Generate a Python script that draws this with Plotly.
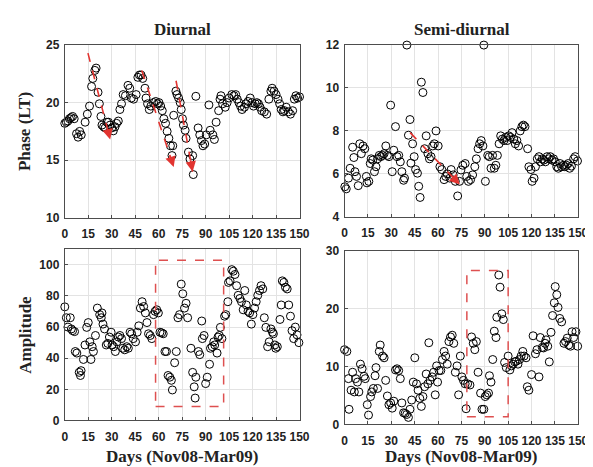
import plotly.graph_objects as go

# ---------------- data ----------------
diurnal_phase_day = [0,1,2,3,4,5,6,7.5,8.5,9.5,10.5,13,14.4,15.8,17.1,17.9,19.2,20,
    21.25,22.1,23.1,23.75,24.8,25.8,26.9,27.9,29,30,31,32.1,33.1,34.2,35.2,36.25,37.3,38.75,40.4,41.5,
    42.5,44,45.6,46.7,47.7,48.75,49.8,51.25,51.9,52.9,54,55,56.7,58.1,59.2,60.2,61.25,62.3,63.3,64.4,
    65.4,66.5,67.5,68.5,69,69.6,71,71.7,72.7,73.75,74.4,75.2,75.8,76.9,77.5,79,80,81.7,82.1,83.75,
    85.2,86.25,87.3,88.3,89.4,90.4,92.1,92.9,94.6,95.6,96.7,98.3,99.2,99.8,100.8,102.5,103.75,105,106.7,108.1,
    109.2,110.2,111.25,112.3,113.3,114.8,115.8,117.1,118.5,119.6,120.6,121.7,122.7,123.75,124.8,125.8,127.5,129,130.4,131.7,
    132.5,133.75,135,136.25,137.3,138.3,139.4,140.4,141.5,142.9,144.2,145.6,146.7,147.7,148.75,150]
diurnal_phase = [18.2,18.3,18.4,18.6,18.7,18.8,18.6,17.3,17.0,17.5,17.2,18.3,19.0,19.7,21.4,22.1,22.8,23.0,
    20.9,19.9,18.8,18.05,17.9,17.8,18.3,18.3,18.05,17.8,17.55,17.9,18.2,18.4,19.4,19.9,20.7,20.6,21.5,21.25,
    20.4,20.3,20.7,22.2,22.4,22.4,22.1,21.25,20.4,19.9,19.4,19.7,20.0,20.1,19.9,20.0,19.7,19.3,18.6,18.2,
    17.5,16.9,16.25,15.4,16.25,18.9,21.0,20.7,20.4,20.0,19.4,18.6,18.05,17.6,16.9,15.7,15.1,15.4,13.75,20.55,
    17.8,17.2,16.7,16.25,16.4,17.2,19.8,17.6,17.2,16.8,18.3,19.3,20.3,20.6,19.9,19.6,20.0,20.4,20.7,20.6,
    20.7,20.3,20.0,19.7,19.4,19.6,19.9,20.1,20.4,20.0,19.7,19.9,20.0,19.9,19.6,19.3,19.2,19.0,20.3,21.0,
    21.25,21.0,20.7,20.3,19.9,19.4,19.2,19.3,19.6,19.2,19.0,19.3,20.3,20.6,20.4,20.5]

semi_phase_day = [0.2,1.1,2.5,3.6,5.2,6.0,6.7,7.7,8.8,9.8,10.8,11.9,13,14,14.4,15.6,16.5,17.1,18.1,19.2,
    20.2,21.2,22.3,23.3,24.4,25.4,26.5,27.5,28.5,29.6,30.6,31.6,32.7,33.7,34.8,35.8,36.8,37.9,38.5,40,
    41,42,42.6,43.7,44.7,45.6,46.8,47.6,48.5,49.3,50.3,51.4,52.4,53.5,54.5,55.5,56.6,57.6,58.7,60.1,
    61.2,62.4,63.9,64.9,65.9,67.6,68.4,69.7,71.1,72.6,73.8,74.7,75.9,77.4,78.4,79.5,80.9,82.2,83.6,84.6,
    85.7,86.7,87.7,88.8,89.4,90.4,91.9,92.9,94.0,95.0,96.1,97.1,98.1,99.2,100.2,101.3,102.3,103.4,104.4,105.4,
    106.5,107.5,108.6,109.6,110.6,111.7,112.7,113.8,114.8,115.8,117.5,118.3,119.6,120.4,121.6,122.5,123.7,124.8,125.8,126.9,
    127.9,128.9,130,131,132,133.1,134.1,135.2,136.2,137.2,138.3,139.3,140.4,141.4,142.4,143.5,144.5,145.6,147,148,149.5]
semi_phase = [5.4,5.3,5.8,6.26,7.24,6.76,6.1,5.88,5.45,7.4,6.94,7.3,7.17,5.88,5.58,5.65,6.48,6.7,6.64,6.1,
    6.33,6.7,6.86,6.8,6.86,6.94,7.3,6.86,6.8,9.2,6.1,7.1,8.2,6.8,6.86,6.56,6.1,5.7,5.8,12.0,
    7.8,8.53,6.5,7.4,6.8,6.2,6.03,5.42,4.9,10.27,9.79,7.17,7.77,6.94,6.7,6.8,7.3,7.4,8.0,7.3,
    6.33,6.2,5.73,5.88,6.0,5.8,6.2,5.95,5.65,4.97,5.65,6.18,6.4,6.48,5.88,5.65,5.73,5.95,6.33,6.7,
    7.17,7.4,7.55,7.3,12.0,5.65,6.86,6.8,6.26,6.86,6.26,6.4,6.86,7.4,7.77,7.62,7.55,7.7,7.55,7.77,
    7.7,7.92,7.62,7.4,7.55,7.3,8.0,8.2,8.27,8.2,7.17,6.33,6.2,5.65,5.8,6.33,6.7,6.8,6.56,6.7,
    6.64,6.56,6.8,6.7,6.8,6.64,6.7,6.56,6.33,6.26,6.48,6.33,6.4,6.33,6.4,6.48,6.26,6.36,6.7,6.8,6.6]

diurnal_amp_day = [0,1,2,3.5,4.2,5.0,6.25,6.7,7.7,9.2,10.0,10.4,11.9,12.9,14.0,15.0,16.0,16.7,17.5,18.3,
    19.6,20.8,22.3,23.3,23.75,24.4,25.4,26.5,27.5,28.5,29.6,30.2,31.25,32.3,33.3,34.2,35.2,36.25,37.1,38.3,
    39.6,40.6,41.7,42.7,43.75,45.2,46.25,47.3,48.3,49.4,50.4,51.5,52.5,53.5,54.6,55.6,56.7,57.7,58.75,59.8,
    60.8,61.9,62.9,64.0,65.0,66.0,67.1,68.1,68.75,70.2,71.25,72.3,73.3,74.4,75.4,76.5,77.5,78.5,80.6,81.7,
    82.7,83.3,83.75,85.4,86.25,87.5,87.9,89.0,90.0,91.0,92.5,93.1,94.2,95.2,95.8,97.3,97.9,98.75,99.4,100.4,
    102.1,102.9,104.2,104.6,105.6,106.7,107.7,108.75,109.8,110.8,111.9,112.9,114.0,115.0,116.0,117.1,118.1,119.2,120.2,121.25,
    122.3,123.3,124.4,125.4,126.5,127.5,128.5,129.6,130.6,131.7,132.7,133.3,134.2,134.8,135.8,137.5,138.3,139.0,140.0,141.0,
    142.1,143.1,144.2,145.2,146.25,147.3,148.4,149.6]
diurnal_amp = [73,66,60,66.0,58.8,57.7,57.1,44.3,43.3,30.9,28.9,32.0,39.2,48.5,59.8,62.9,50.5,39.2,47.4,44.3,
    54.6,72.2,68.0,66.0,69.1,61.9,58.8,48.5,49.5,53.6,56.7,48.5,47.4,44.3,50.5,53.6,54.6,52.6,46.4,45.4,
    47.4,46.4,56.7,55.7,52.6,50.5,56.7,60.8,72.2,76.3,73.2,69.1,62.9,55.7,54.6,52.6,68.0,70.1,71.1,69.1,
    56.7,56.3,55.7,44.3,44.3,28.9,27.8,25.8,19.6,37.1,44.3,66.0,68.0,87.6,81.4,72.2,75.3,66.0,46.4,30.9,
    21.6,14.4,27.8,44.3,42.3,63.9,52.6,54.6,23.7,27.8,36.1,46.4,47.4,50.5,48.5,43.3,53.6,54.6,59.8,52.6,
    67.0,68.0,76.3,88.7,89.7,96.9,95.9,93.8,86.6,80.4,78.4,76.3,71.1,83.5,74.2,70.1,69.1,61.9,68.0,72.2,
    76.3,80.4,83.5,86.6,84.5,66.0,59.8,47.4,50.5,58.8,56.7,55.7,48.5,46.4,47.4,64.9,74.2,89.7,88.7,85.6,
    84.5,74.2,67.0,57.7,52.6,60,55,50]

semi_amp_day = [0.0,1.5,2.5,2.9,4.2,5.2,6.3,7.1,8.3,9.2,10.2,11.3,12.5,13.3,14.6,15.4,16.7,17.5,18.5,19.6,
    20.2,21.2,22.3,22.9,24.4,25.4,26.4,27.5,28.5,29.6,30.6,31.6,32.7,33.7,34.75,35.8,36.8,37.9,38.9,39.9,
    41.0,42.0,43.1,44.1,45.1,46.2,47.2,48.3,49.3,50.3,51.4,52.4,53.5,54.1,54.9,56.2,57.2,58.2,59.1,59.7,
    60.7,61.8,62.8,63.9,64.9,65.9,67.0,68.0,69.1,70.1,71.1,72.2,73.2,74.3,75.3,76.3,77.4,78.0,79.0,80.5,
    81.5,82.6,83.6,84.6,85.7,87.3,88.2,89.4,90.3,91.3,92.4,93.0,94.0,95.1,96.1,97.2,97.7,99.0,99.8,100.9,
    101.9,102.7,103.8,105.0,106.1,107.1,108.1,109.2,110.2,111.3,112.3,113.3,114.4,115.2,116.5,117.3,118.3,120.0,121.0,122.5,
    123.5,124.8,125.6,126.9,127.7,128.7,129.3,130.4,131.4,132.5,133.5,134.6,135.2,136.2,137.0,138.1,139.3,140.8,141.8,142.9,
    143.9,145.0,146.0,147.0,148.5,149.6]
semi_amp = [12.9,12.6,7.9,2.6,5.9,9.0,5.6,7.9,7.3,5.6,10.4,9.6,8.3,7.9,3.4,1.6,4.8,5.6,6.2,8.4,
    9.8,6.2,12.6,13.7,11.8,11.5,7.6,4.9,3.4,3.7,2.8,4.0,9.4,9.6,9.3,7.9,3.7,2.0,1.9,1.7,
    1.2,2.6,4.2,7.3,11.5,7.0,5.9,4.5,3.1,4.8,6.5,8.7,7.0,14.1,7.6,8.2,9.0,5.1,10.1,7.3,
    9.3,9.3,11.2,12.6,11.8,10.4,14.3,15.1,15.4,14.0,9.0,10.1,5.1,11.8,8.2,7.6,7.0,2.7,7.0,6.8,
    15.1,14.0,12.9,14.3,9.0,5.4,2.6,2.6,4.8,5.1,5.4,8.4,7.3,11.2,16.1,15.0,18.5,25.8,23.7,19.1,
    18.1,10.7,9.8,11.8,9.4,10.1,10.4,10.8,10.9,10.4,11.2,11.8,12.6,11.8,11.5,6.5,5.9,8.6,15.3,12.2,
    12.9,8.2,15.0,13.3,13.2,14.0,14.6,13.5,10.8,15.9,18.8,21.0,23.8,22.4,20.2,18.3,17.7,14.0,14.3,14.9,
    13.7,13.5,16.0,15.0,16.0,13.5]

# trend arrows (start day, start value, end day, end value)
diurnal_arrows = [(14.8, 24.3, 29.0, 16.8), (49.2, 22.8, 69.6, 14.4), (71.1, 21.9, 81.7, 14.0)]
semi_arrows = [(42.1, 7.92, 74.0, 5.5)]
# highlighted windows (x0, x1, y0, y1)
diurnal_box = (58, 101.5, 9, 103)
semi_box = (78.5, 105, 1.3, 26.6)

x_ticks = list(range(0, 151, 15))
panel_titles = ["Diurnal", "Semi-diurnal"]
y_titles = ["Phase (LT)", "Amplitude"]
x_title = "Days (Nov08-Mar09)"

assert len(diurnal_phase_day) == len(diurnal_phase)
assert len(semi_phase_day) == len(semi_phase)
assert len(diurnal_amp_day) == len(diurnal_amp)
assert len(semi_amp_day) == len(semi_amp)

# ---------------- figure ----------------
W, H = 593, 467
RED = "rgb(226,52,48)"
BOXRED = "rgb(222,80,80)"

def px_x(a, b):
    return [a / W, b / W]

def px_y(top, bottom):
    return [1 - bottom / H, 1 - top / H]

fig = go.Figure()

def add_points(x, y, xa, ya):
    fig.add_trace(go.Scatter(
        x=x, y=y, xaxis=xa, yaxis=ya, mode="markers", cliponaxis=False,
        marker=dict(symbol="circle-open", size=8, color="black", line=dict(width=1, color="black")),
        showlegend=False, hoverinfo="x+y"))

add_points(diurnal_phase_day, diurnal_phase, "x", "y")
add_points(semi_phase_day, semi_phase, "x2", "y2")
add_points(diurnal_amp_day, diurnal_amp, "x3", "y3")
add_points(semi_amp_day, semi_amp, "x4", "y4")

arrow_anns = []

def add_arrow(a, xa, ya):
    x0, y0, x1, y1 = a
    fig.add_trace(go.Scatter(
        x=[x0, x1], y=[y0, y1], xaxis=xa, yaxis=ya, mode="lines", cliponaxis=False,
        line=dict(color=RED, width=1.6, dash="dash"),
        showlegend=False, hoverinfo="skip"))
    f = 0.86
    arrow_anns.append(dict(
        x=x1, y=y1, ax=x0 + f * (x1 - x0), ay=y0 + f * (y1 - y0),
        xref=xa, yref=ya, axref=xa, ayref=ya, text="", showarrow=True,
        arrowhead=2, arrowsize=1.3, arrowwidth=1.6, arrowcolor=RED, standoff=0))

for a in diurnal_arrows:
    add_arrow(a, "x", "y")
for a in semi_arrows:
    add_arrow(a, "x2", "y2")

for box, xr, yr in [(diurnal_box, "x3", "y3"), (semi_box, "x4", "y4")]:
    fig.add_shape(type="rect", xref=xr, yref=yr, x0=box[0], x1=box[1], y0=box[2], y1=box[3],
                  line=dict(color=BOXRED, width=1.5, dash="dash"), fillcolor="rgba(0,0,0,0)")

tickfont = dict(family="Liberation Sans, Arial, sans-serif", size=12, color="#222", weight="bold")
common = dict(showline=True, mirror=True, linecolor="#4d4d4d", linewidth=1,
              showgrid=True, gridcolor="#e3e3e3", gridwidth=1, zeroline=False,
              ticks="inside", ticklen=3, tickcolor="#4d4d4d", tickfont=tickfont)

xcommon = dict(common, range=[0, 150], tickvals=x_ticks, tickangle=0, ticklabelstandoff=5)

fig.update_layout(
    width=W, height=H, margin=dict(l=0, r=0, t=0, b=0),
    paper_bgcolor="white", plot_bgcolor="white",
    xaxis=dict(xcommon, domain=px_x(55, 295), anchor="y"),
    yaxis=dict(common, domain=px_y(31, 209), range=[10, 25], tickvals=[10, 15, 20, 25], anchor="x", ticklabelstandoff=2),
    xaxis2=dict(xcommon, domain=px_x(341, 580), anchor="y2"),
    yaxis2=dict(common, domain=px_y(31, 208), range=[4, 12], tickvals=[4, 6, 8, 10, 12], anchor="x2", ticklabelstandoff=2),
    xaxis3=dict(xcommon, domain=px_x(55, 295), anchor="y3"),
    yaxis3=dict(common, domain=px_y(241.5, 418), range=[0, 110], tickvals=[0, 20, 40, 60, 80, 100], anchor="x3", ticklabelstandoff=2),
    xaxis4=dict(xcommon, domain=px_x(341, 580), anchor="y4"),
    yaxis4=dict(common, domain=px_y(243, 422), range=[0, 30], tickvals=[0, 10, 20, 30], anchor="x4", ticklabelstandoff=2),
)

serif = dict(family="Liberation Serif, Times New Roman, serif", size=17, color="#222", weight="bold")
anns = list(arrow_anns)
for txt, cx in zip(panel_titles, [175, 461]):
    anns.append(dict(text=txt, x=cx / W, y=1 - 15 / H, xref="paper", yref="paper",
                     showarrow=False, xanchor="center", yanchor="middle", font=serif))
for txt, cy in zip(y_titles, [120, 330]):
    anns.append(dict(text=txt, x=14 / W, y=1 - cy / H, xref="paper", yref="paper", textangle=-90,
                     showarrow=False, xanchor="center", yanchor="middle", font=serif))
for cx in [175, 461]:
    anns.append(dict(text=x_title, x=cx / W, y=1 - 455 / H, xref="paper", yref="paper",
                     showarrow=False, xanchor="center", yanchor="middle", font=serif))
fig.update_layout(annotations=anns)

fig.write_html("out.html")
